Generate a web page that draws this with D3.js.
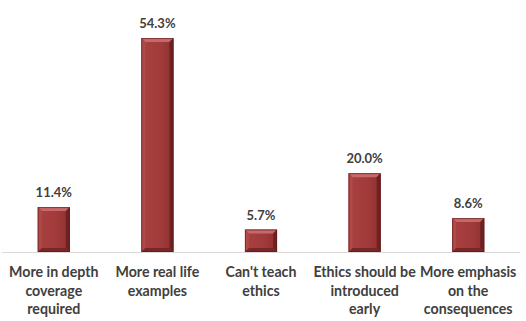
<!DOCTYPE html>
<html><head><meta charset="utf-8">
<script src="https://cdn.jsdelivr.net/npm/d3@7"></script>
<style>body{margin:0;background:#fff}svg{display:block}</style>
</head><body>
<svg id="c" width="526" height="321"></svg>
<script>
const categories = [
  ["More in depth","coverage","required"],
  ["More real life","examples"],
  ["Can't teach","ethics"],
  ["Ethics should be","introduced","early"],
  ["More emphasis","on the","consequences"]
];
const values = [11.4, 54.3, 5.7, 20.0, 8.6];
const labels = ["11.4%","54.3%","5.7%","20.0%","8.6%"];

const svg = d3.select("#c");
const font = "Lato, 'Open Sans', sans-serif";
const x = d3.scaleBand().domain(d3.range(values.length)).range([2, 520]).paddingInner(0.69).paddingOuter(0.345);
const y = d3.scaleLinear().domain([0, 60]).range([252, 15.6]);

const defs = svg.append("defs");
const g = defs.append("linearGradient").attr("id","body").attr("x1",0).attr("x2",1).attr("y1",0).attr("y2",0);
g.append("stop").attr("offset","0%").attr("stop-color","#a8403f");
g.append("stop").attr("offset","60%").attr("stop-color","#a13b3b");
g.append("stop").attr("offset","100%").attr("stop-color","#8e3030");

svg.append("line").attr("x1",2).attr("x2",520).attr("y1",y(0)+0.5).attr("y2",y(0)+0.5)
  .attr("stroke","#d9d9d9").attr("stroke-width",1);

const bw = x.bandwidth();
const b = 4;
const bars = svg.selectAll("g.bar").data(values).enter().append("g");
bars.each(function(v,i){
  const s = d3.select(this);
  const x0 = x(i), x1 = x(i)+bw, y0 = y(v), y1 = y(0);
  s.append("rect").attr("x",x0).attr("y",y0).attr("width",bw).attr("height",y1-y0).attr("fill","url(#body)");
  const poly = (pts, fill) => s.append("polygon").attr("points", pts.map(p=>p.join(",")).join(" ")).attr("fill", fill);
  poly([[x0,y0],[x1,y0],[x1-b,y0+b],[x0+b,y0+b]], "#c8686a");
  poly([[x0,y0],[x0+b,y0+b],[x0+b,y1-b],[x0,y1]], "#b04a49");
  poly([[x1,y0],[x1,y1],[x1-b,y1-b],[x1-b,y0+b]], "#6e2222");
  poly([[x0,y1],[x0+b,y1-b],[x1-b,y1-b],[x1,y1]], "#7a2626");
  s.append("rect").attr("x",x0+0.5).attr("y",y0+0.5).attr("width",bw-1).attr("height",y1-y0-1)
    .attr("fill","none").attr("stroke","#5a1818").attr("stroke-opacity",0.6);
});

svg.selectAll("text.val").data(values).enter().append("text")
  .attr("x",(d,i)=>x(i)+bw/2).attr("y",d=>y(d)-10)
  .attr("text-anchor","middle").attr("font-family",font).attr("font-weight","bold")
  .attr("font-size",13).attr("fill","#404040").text((d,i)=>labels[i]);

const cat = svg.selectAll("text.cat").data(categories).enter().append("text")
  .attr("text-anchor","middle").attr("font-family",font).attr("font-weight","bold")
  .attr("font-size",14.2).attr("fill","#404040");
cat.each(function(lines,i){
  d3.select(this).selectAll("tspan").data(lines).enter().append("tspan")
    .attr("x", x(i)+bw/2).attr("y",(d,j)=>277+j*18.5).text(d=>d);
});
</script>
</body></html>
